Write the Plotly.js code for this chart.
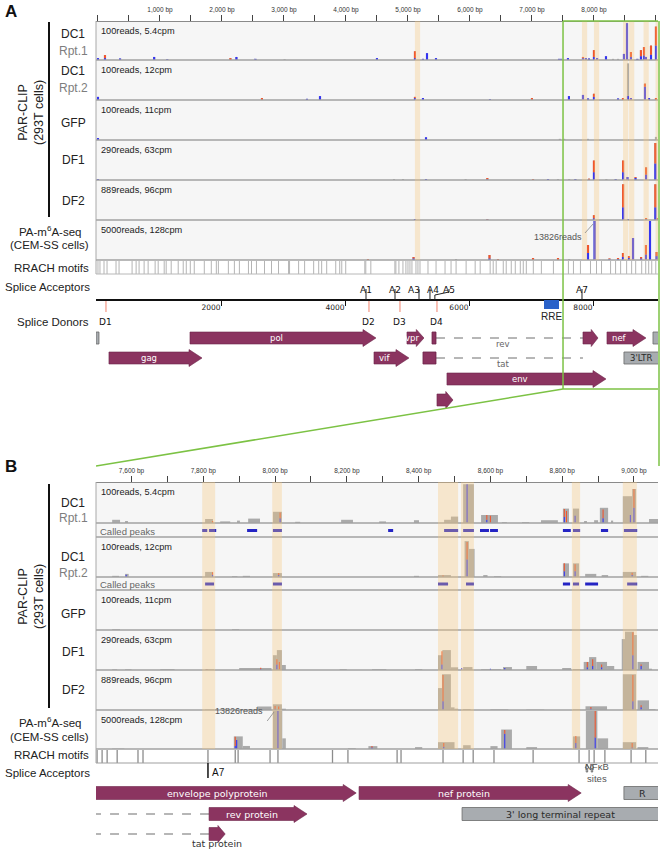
<!DOCTYPE html>
<html>
<head>
<meta charset="utf-8">
<script src="https://cdn.plot.ly/plotly-3.0.1.min.js"></script>
<style>
  html, body { margin: 0; padding: 0; background: #fff; }
  #chart { width: 662px; height: 857px; }
</style>
</head>
<body>
<div id="chart"></div>
<script>
// ---------------- data ----------------
// ruler ticks
const rulerATickVals = [1000,2000,3000,4000,5000,6000,7000,8000,9000];
const rulerATickText = ['1,000 bp','2,000 bp','3,000 bp','4,000 bp','5,000 bp','6,000 bp','7,000 bp','8,000 bp','9,000 bp'];
const genomeTickVals = [2000, 4000, 6000, 8000];
const rulerBTickVals = [7600,7800,8000,8200,8400,8600,8800,9000];
const rulerBTickText = ['7,600 bp','7,800 bp','8,000 bp','8,200 bp','8,400 bp','8,600 bp','8,800 bp','9,000 bp'];

const scaleLabels = ['100reads, 5.4cpm', '100reads, 12cpm', '100reads, 11cpm', '290reads, 63cpm', '889reads, 96cpm', '5000reads, 128cpm'];
const trackMax = [100, 100, 100, 290, 889, 5000];

// panel A coverage: [position bp, coverage reads, blue reads, red reads]
const covA_DC1r1 = [
  [0,5,5,0],[113,13,5,8],[356,4,4,0],[906,8,8,0],[1117,2,2,0],[2136,5,0,5],[2233,8,8,0],[2540,3,3,0],[3010,2,0,0],
  [4500,5,5,0],[5113,23,5,18],[5242,3,3,0],[5307,18,18,0],[5452,5,5,0],
  [7436,3,3,0],[7470,3,3,0],[7581,5,5,0],[7823,8,5,3],[7870,5,5,0],[7920,4,4,0],[8000,26,8,18],[8050,5,5,0],
  [8194,10,10,0],[8307,3,0,0],[8388,3,0,0],[8484,16,16,0],[8533,97,97,0],[8597,21,8,13],[8700,3,3,0],
  [8758,26,10,16],[8807,34,12,22],[8839,8,8,0],[8920,38,14,24],[9000,88,38,50]
];
const covA_DC1r2 = [
  [0,8,8,0],[2645,5,0,5],[3371,3,3,0],[3581,10,10,0],[5113,8,5,3],[5242,5,5,0],[6323,2,2,0],[7000,5,0,5],
  [7597,10,10,0],[7823,13,13,0],[7904,4,4,0],[8000,16,8,8],[8388,4,4,0],[8468,5,0,5],[8549,94,10,0],[8597,5,5,0],
  [8823,42,34,8],[8888,5,5,0],[9000,5,0,5]
];
const covA_GFP = [[0,5,5,0],[5291,7,7,0],[7450,3,0,0],[7520,3,0,0],[7904,3,0,0],[9000,8,0,0]];
const covA_DF1 = [
  [0,7,7,0],[4775,7,0,0],[4920,7,0,0],[5291,7,7,0],[5930,7,0,0],[6280,15,5,10],[7017,7,0,7],[7259,7,7,0],[7420,7,0,0],
  [7600,7,0,0],[7700,7,7,0],[7920,10,0,10],[8000,145,58,87],[8200,7,0,0],[8350,7,7,0],[8470,145,58,87],
  [8540,22,22,0],[8670,22,15,7],[8840,94,40,54],[8990,275,123,152]
];
const covA_DF2 = [
  [5113,22,22,0],[6280,22,10,12],[8000,110,40,70],[8470,815,290,525],[8550,22,22,0],[8840,44,22,22],
  [8990,815,290,525],[9030,40,20,20]
];
const covA_PA = [
  [4355,128,0,128],[5090,384,200,184],[5775,128,0,0],[6315,640,200,440],[6452,128,0,128],[7017,256,0,256],
  [7420,256,0,256],[7600,128,0,0],[7904,1920,900,1020],[8010,13826,13826,0],[8250,200,100,100],[8388,256,128,128],
  [8468,900,400,500],[8565,512,256,256],[8630,2816,2816,0],[8760,384,200,184],[8839,1920,700,1220],
  [8904,13826,6000,7826],[9010,1024,500,524]
];

// panel B coverage clusters: [start bp, end bp, reads]; mismatches: [position bp, blue reads, red reads]
const clusB_DC1r1 = [[7546,7568,8],[7582,7590,5],[7805,7827,10],[7847,7875,4],[7894,7902,6],[7925,7958,11],[7994,8019,28],[8056,8070,3],[8184,8217,8],[8290,8309,4],[8387,8401,7],[8471,8490,8],[8490,8510,16],[8524,8554,97],[8574,8621,20],[8632,8646,2],[8688,8708,2],[8741,8788,7],[8802,8819,36],[8830,8847,36],[8861,8869,5],[8889,8900,7],[8905,8928,38],[8936,8942,6],[8969,8995,67],[8995,9006,85],[9042,9067,10]];
const mmB_DC1r1 = [[7826,0,5],[8014,12,14],[8535,97,0],[8590,8,12],[8600,0,18],[8806,15,20],[8812,0,30],[8836,18,0],[8914,12,22],[8990,20,0],[9000,38,47]];
const clusB_DC1r2 = [[7546,7565,3],[7582,7592,8],[7805,7827,13],[7880,7895,2],[7910,7930,3],[7994,8019,10],[8387,8401,3],[8454,8490,5],[8528,8540,92],[8540,8556,72],[8580,8592,5],[8610,8630,2],[8802,8819,35],[8830,8847,35],[8864,8895,8],[8910,8928,5],[8969,9006,13],[9020,9040,3]];
const mmB_DC1r2 = [[7585,6,0],[7826,6,6],[8010,5,5],[8468,0,4],[8535,45,45],[8806,15,20],[8836,15,18],[8995,5,6]];
const clusB_GFP = [[7546,7568,2],[7880,7900,2]];
const mmB_GFP = [];
const clusB_DF1 = [[7546,7560,5],[7582,7600,5],[7680,7720,6],[7805,7830,5],[7900,7990,15],[7994,8005,110],[8005,8019,148],[8019,8030,37],[8180,8200,6],[8270,8310,6],[8390,8410,6],[8454,8466,110],[8466,8490,148],[8490,8510,20],[8524,8550,22],[8574,8630,6],[8635,8660,22],[8700,8730,30],[8800,8825,15],[8830,8850,7],[8860,8875,60],[8875,8895,96],[8895,8925,60],[8925,8945,30],[8966,8975,230],[8975,9000,285],[9000,9008,260],[9010,9042,60],[9042,9050,10]];
const mmB_DF1 = [[7810,4,4],[7960,8,8],[8005,40,40],[8012,0,60],[8465,40,100],[8520,15,0],[8600,10,0],[8640,15,0],[8870,20,40],[8885,30,50],[8910,20,20],[8997,110,170],[9020,30,10]];
const clusB_DF2 = [[7805,7830,10],[7950,7990,80],[7994,8019,130],[8019,8030,30],[8454,8465,500],[8465,8490,815],[8490,8500,60],[8500,8510,30],[8524,8545,20],[8600,8650,15],[8700,8750,10],[8830,8850,15],[8865,8925,85],[8969,9006,815],[9010,9042,220],[9042,9060,20]];
const mmB_DF2 = [[8000,30,60],[8010,0,80],[8468,200,600],[8880,30,40],[8997,200,600],[9020,60,50]];
const clusB_PA = [[7546,7580,60],[7885,7910,1660],[7910,7930,400],[7994,8020,13826],[8020,8030,1400],[8203,8225,100],[8260,8285,380],[8390,8410,250],[8454,8500,900],[8524,8545,500],[8600,8620,380],[8630,8660,2560],[8700,8730,250],[8830,8850,1660],[8866,8898,13826],[8898,8928,1400],[8969,9006,900],[9010,9040,250]];
const mmB_PA = [[7889,400,1200],[7893,1200,0],[8008,13826,0],[8270,200,180],[8470,300,500],[8640,2000,500],[8838,800,900],[8892,1500,13826],[8995,200,600]];

// called peaks [start, end]
const peaksB_r1 = [[7797,7811],[7816,7836],[7922,7950],[7994,8019],[8315,8329],[8471,8510],[8524,8554],[8571,8596],[8599,8621],[8802,8824],[8830,8850],[8908,8928],[8972,9009]];
const peaksB_r2 = [[7805,7830],[7994,8019],[8454,8482],[8532,8554],[8802,8822],[8830,8847],[8864,8900],[8981,9009]];

// RRACH motif positions
const rrachA = [0,32,97,146,291,340,550,615,663,744,809,922,971,1068,1100,1181,1294,1375,1424,1489,1553,1715,1828,1909,1942,2103,2200,2281,2427,2476,2556,2686,2799,2912,3074,3090,3236,3333,3479,3560,3608,3689,3835,3899,3932,3996,4304,4320,4401,4789,4805,4854,4919,4967,5000,5032,5064,5129,5161,5194,5323,5453,5598,5695,5776,5938,6084,6165,6326,6375,6423,6537,6585,6666,6731,6812,6860,6909,7022,7152,7346,7588,7669,7782,7944,8041,8122,8268,8349,8430,8527,8608,8673,8770,8835,8883,8932,8997];
const rrachB = [7504,7518,7532,7560,7618,7632,7813,7889,7897,7986,8008,8160,8203,8340,8351,8468,8524,8552,8610,8719,8847,8875,8889,8919,8992,9033];

// highlighted m6A regions
const bandsA = [5154, 7848, 8042, 8511, 8608, 8842, 9036];
const bandsB = [[7797,7833],[7992,8019],[8454,8510],[8518,8554],[8827,8850],[8969,9008]];

// genome features: [label, start, end, row, kind]
const genesA = [
  ['', -30, 16, 1, 'ltr'],
  ['gag', 177, 1678, 2, 'arrow'],
  ['pol', 1484, 4484, 1, 'arrow'],
  ['vif', 4452, 5016, 2, 'arrow'],
  ['vpr', 4984, 5258, 1, 'arrow'],
  ['', 5388, 5452, 1, 'box'],
  ['', 5242, 5452, 2, 'box'],
  ['', 7823, 8065, 1, 'arrow'],
  ['nef', 8210, 8839, 1, 'arrow'],
  ['', 8952, 9060, 1, 'ltr'],
  ["3'LTR", 8484, 9049, 2, 'ltr'],
  ['env', 5629, 8194, 3, 'arrow'],
  ['', 5468, 5726, 4, 'arrow']
];
const intronsA = [['rev', 5452, 7823, 1], ['tat', 5452, 7823, 2]];
const genesB = [
  ['envelope polyprotein', 7490, 8226, 1, 'arrow'],
  ['nef protein', 8234, 8853, 1, 'arrow'],
  ['R', 8972, 9073, 1, 'ltr'],
  ['rev protein', 7816, 8089, 2, 'arrow'],
  ["3' long terminal repeat", 8521, 9070, 2, 'ltr'],
  ['', 7816, 7861, 3, 'arrow']
];
const intronsB = [['', 7490, 7816, 2], ['', 7490, 7816, 3]];

const acceptorNames = ['A1','A2','A3','A4','A5','A7'];
const acceptorPos = [4323, 4791, 5178, 5355, 5404, 7807];
const donorNames = ['D1','D2','D3','D4'];
const donorPos = [129, 4371, 4871, 5468];
const rreRange = [7194, 7436];
const nfkbSites = [8869, 8883];

// ---------------- layout helpers ----------------
const W = 662, H = 857;
const px = v => v / W;
const py = v => 1 - v / H;
const L = 96, R = 658;
const A_RANGE = [-32, 9033];
const B_RANGE = [7501, 9067];
const bpPerPxA = (A_RANGE[1] - A_RANGE[0]) / (R - L);
const bpPerPxB = (B_RANGE[1] - B_RANGE[0]) / (R - L);

const SANS = 'Liberation Sans, Arial, sans-serif';
const VERD = 'DejaVu Sans, Verdana, sans-serif';
const BLUE = '#3434f2', RED = '#f0552d', GREY = '#aaaaaa';
const GENE = '#8b3460', LTR = '#a8acb0', GREEN = '#7cc244';

const rowsA = [[21,60],[60,100],[100,140],[140,180],[180,220],[220,260]];
const rrachRowA = [260,274];
const rowsB = [[482,523],[537,577],[590,630],[630,670],[670,710],[710,749]];
const peakRowsB = [[523,537],[577,590]];
const rrachRowB = [749,763];

const traces = [];
const shapes = [];
const annotations = [];
const layout = {
  width: W, height: H, margin: {l: 0, r: 0, t: 0, b: 0},
  paper_bgcolor: '#ffffff', plot_bgcolor: 'rgba(0,0,0,0)',
  showlegend: false, barmode: 'overlay', font: {family: SANS}
};

function yName(i) { return i === 1 ? 'y' : 'y' + i; }
function yKey(i) { return i === 1 ? 'yaxis' : 'yaxis' + i; }
function addY(i, row, max, xa) {
  layout[yKey(i)] = {domain: [py(row[1]), py(row[0] + 1)], range: [0, max], anchor: xa,
    visible: false, fixedrange: true};
}

// y axes: A tracks 1-6, A motifs 7, B tracks 8-13, B peaks 14-15, B motifs 16
rowsA.forEach((r, i) => addY(i + 1, r, trackMax[i], 'x'));
addY(7, rrachRowA, 1, 'x');
rowsB.forEach((r, i) => addY(i + 8, r, trackMax[i], 'x3'));
addY(14, peakRowsB[0], 1, 'x3');
addY(15, peakRowsB[1], 1, 'x3');
addY(16, rrachRowB, 1, 'x3');

const axBase = {showgrid: false, zeroline: false, fixedrange: true, domain: [px(L), px(R)]};
layout.xaxis = Object.assign({}, axBase, {range: A_RANGE, anchor: 'y', side: 'top',
  showline: true, linecolor: '#8a8a8a', linewidth: 1, ticks: 'outside', ticklen: 6, tickcolor: '#444',
  tickvals: rulerATickVals, ticktext: rulerATickText, tickfont: {family: SANS, size: 6.5, color: '#333'},
  minor: {tick0: 0, dtick: 500, ticks: 'outside', ticklen: 6, tickcolor: '#444', showgrid: false}});
layout.xaxis2 = Object.assign({}, axBase, {range: A_RANGE, anchor: 'free', position: py(300), side: 'bottom',
  showline: true, linecolor: '#111', linewidth: 2, ticks: 'outside', ticklen: 5, tickcolor: '#111',
  ticklabelposition: 'outside left', tickvals: genomeTickVals, ticktext: genomeTickVals.map(String),
  tickfont: {family: VERD, size: 7.5, color: '#222'}});
layout.xaxis3 = Object.assign({}, axBase, {range: B_RANGE, anchor: 'y8', side: 'top',
  showline: true, linecolor: '#8a8a8a', linewidth: 1, ticks: 'outside', ticklen: 6, tickcolor: '#444',
  tickvals: rulerBTickVals, ticktext: rulerBTickText, tickfont: {family: SANS, size: 6.5, color: '#333'},
  minor: {tick0: 7500, dtick: 100, ticks: 'outside', ticklen: 6, tickcolor: '#444', showgrid: false}});

// ---------------- traces ----------------
function barsA(rows, ya) {
  const x = rows.map(r => r[0]);
  const c = {type: 'bar', x, width: 34, xaxis: 'x', yaxis: ya, hoverinfo: 'skip'};
  return [
    Object.assign({}, c, {y: rows.map(r => r[1]), marker: {color: GREY, line: {width: 0}}}),
    Object.assign({}, c, {y: rows.map(r => r[2]), marker: {color: BLUE, line: {width: 0}}}),
    Object.assign({}, c, {y: rows.map(r => r[3]), base: rows.map(r => r[2]), marker: {color: RED, line: {width: 0}}})
  ];
}
function barsB(clus, mm, ya) {
  const c = {type: 'bar', xaxis: 'x3', yaxis: ya, hoverinfo: 'skip'};
  return [
    Object.assign({}, c, {x: clus.map(k => (k[0] + k[1]) / 2), width: clus.map(k => k[1] - k[0]),
      y: clus.map(k => k[2]), marker: {color: GREY, line: {width: 0}}}),
    Object.assign({}, c, {x: mm.map(m => m[0]), width: 3, y: mm.map(m => m[1]),
      marker: {color: BLUE, line: {width: 0}}}),
    Object.assign({}, c, {x: mm.map(m => m[0]), width: 3, y: mm.map(m => m[2]), base: mm.map(m => m[1]),
      marker: {color: RED, line: {width: 0}}})
  ];
}
function ticksTrace(list, xa, ya, color, w) {
  const x = [], y = [];
  list.forEach(p => { x.push(p, p, null); y.push(0, 1, null); });
  return {type: 'scatter', mode: 'lines', x, y, xaxis: xa, yaxis: ya, line: {color, width: w}, hoverinfo: 'skip'};
}
function peaksTrace(list, ya) {
  const x = [], y = [];
  list.forEach(p => { x.push(p[0], p[1], null); y.push(0.5, 0.5, null); });
  return {type: 'scatter', mode: 'lines', x, y, xaxis: 'x3', yaxis: ya, line: {color: '#2424c4', width: 3}, hoverinfo: 'skip'};
}

[covA_DC1r1, covA_DC1r2, covA_GFP, covA_DF1, covA_DF2, covA_PA].forEach((rows, i) => {
  traces.push(...barsA(rows, yName(i + 1)));
});
traces.push(ticksTrace(rrachA, 'x', 'y7', '#b4b4b4', 1));
[[clusB_DC1r1, mmB_DC1r1], [clusB_DC1r2, mmB_DC1r2], [clusB_GFP, mmB_GFP],
 [clusB_DF1, mmB_DF1], [clusB_DF2, mmB_DF2], [clusB_PA, mmB_PA]].forEach((p, i) => {
  traces.push(...barsB(p[0], p[1], yName(i + 8)));
});
traces.push(peaksTrace(peaksB_r1, 'y14'));
traces.push(peaksTrace(peaksB_r2, 'y15'));
traces.push(ticksTrace(rrachB, 'x3', 'y16', '#8c8c8c', 1.3));
// keeps the genome coordinate axis alive
traces.push({type: 'scatter', mode: 'markers', x: [4000], y: [0.5], xaxis: 'x2', yaxis: 'y7',
  marker: {opacity: 0}, hoverinfo: 'skip'});

// ---------------- shapes ----------------
function rectPx(x0, y0, x1, y1, fill, layer) {
  shapes.push({type: 'rect', xref: 'paper', yref: 'paper', x0: px(x0), x1: px(x1), y0: py(y1), y1: py(y0),
    fillcolor: fill, line: {width: 0}, layer: layer || 'below'});
}
function hline(x0, x1, y, color, w) {
  shapes.push({type: 'line', xref: 'paper', yref: 'paper', x0: px(x0), x1: px(x1), y0: py(y), y1: py(y),
    line: {color, width: w}});
}
function vline(x, y0, y1, color, w) {
  shapes.push({type: 'line', xref: 'paper', yref: 'paper', x0: px(x), x1: px(x), y0: py(y0), y1: py(y1),
    line: {color, width: w}});
}
function dataLine(xref, x0, y0, x1, y1, color, w, dash) {
  shapes.push({type: 'line', xref, yref: 'paper', x0, x1, y0: py(y0), y1: py(y1),
    line: {color, width: w, dash: dash || 'solid'}});
}

// track backgrounds and separators
rowsA.concat(rowsB, peakRowsB).forEach(r => {
  rectPx(L, r[0], R, r[1], '#f6f6f6');
  hline(L, R, r[1], '#a2a2a2', 1.3);
});
hline(L, R, rrachRowA[1], '#b8b8b8', 1);
hline(L, R, rrachRowB[1], '#a0a0a0', 1.2);
vline(L, 21, 274, '#a8a8a8', 1);
vline(L, 482, 763, '#a8a8a8', 1);

// highlighted regions
bandsA.forEach(c => shapes.push({type: 'rect', xref: 'x', yref: 'paper', x0: c - 42, x1: c + 42,
  y0: py(260), y1: py(21), fillcolor: 'rgba(246,198,125,0.34)', line: {width: 0}, layer: 'above'}));
bandsB.forEach(b => shapes.push({type: 'rect', xref: 'x3', yref: 'paper', x0: b[0], x1: b[1],
  y0: py(749), y1: py(482), fillcolor: 'rgba(246,198,125,0.34)', line: {width: 0}, layer: 'above'}));

// gene features
function arrowPath(s, e, yc, hb, hh, headBp) {
  const h0 = Math.max(s, e - headBp);
  return 'M' + s + ',' + py(yc - hb) + ' L' + h0 + ',' + py(yc - hb) + ' L' + h0 + ',' + py(yc - hh) +
    ' L' + e + ',' + py(yc) + ' L' + h0 + ',' + py(yc + hh) + ' L' + h0 + ',' + py(yc + hb) +
    ' L' + s + ',' + py(yc + hb) + ' Z';
}
function drawGenes(list, xref, rowY, hb, hh, bpPx, fontSize) {
  list.forEach(g => {
    const [name, s, e, row, kind] = g;
    const yc = rowY[row];
    const lenPx = (e - s) / bpPx;
    const headPx = Math.min(13, lenPx * 0.45);
    let mid = (s + e) / 2;
    if (kind === 'arrow') {
      shapes.push({type: 'path', xref, yref: 'paper', path: arrowPath(s, e, yc, hb, hh, headPx * bpPx),
        fillcolor: GENE, line: {color: '#6d2549', width: 0.6}});
      mid = (s + e - headPx * bpPx) / 2;
    } else {
      shapes.push({type: 'rect', xref, yref: 'paper', x0: s, x1: e, y0: py(yc + hb), y1: py(yc - hb),
        fillcolor: kind === 'ltr' ? LTR : GENE, line: {color: kind === 'ltr' ? '#6a6a6a' : '#6d2549', width: 0.8}});
    }
    if (name) {
      annotations.push({xref, yref: 'paper', x: mid, y: py(yc), text: name, showarrow: false,
        xanchor: 'center', yanchor: 'middle',
        font: {family: VERD, size: fontSize, color: kind === 'ltr' ? '#2a2a2a' : '#ffffff'}});
    }
  });
}
const rowYA = {1: 338, 2: 358, 3: 379, 4: 400};
const rowYB = {1: 793, 2: 814, 3: 834};
intronsA.forEach(t => {
  dataLine('x', t[1], rowYA[t[3]], t[2], rowYA[t[3]], '#6f6f6f', 1, 'dash');
  annotations.push({xref: 'x', yref: 'paper', x: (t[1] + t[2]) / 2 - 100, y: py(rowYA[t[3]] + 6), text: t[0],
    showarrow: false, font: {family: VERD, size: 8.5, color: '#666'}});
});
intronsB.forEach(t => dataLine('x3', t[1], rowYB[t[3]], t[2], rowYB[t[3]], '#6f6f6f', 1.2, 'dash'));
drawGenes(genesA, 'x', rowYA, 6, 8.5, bpPerPxA, 8.5);
drawGenes(genesB, 'x3', rowYB, 6.5, 8.5, bpPerPxB, 9.5);
annotations.push({xref: 'x3', yref: 'paper', x: 7838, y: py(851), text: 'tat protein', showarrow: false,
  font: {family: VERD, size: 9.5, color: '#333'}});

// splice sites (panel A)
const acceptorShift = {A1: 0, A2: 0, A3: -5, A4: 3, A7: 0};
acceptorPos.forEach((p, i) => {
  const name = acceptorNames[i];
  if (name === 'A5') {
    const lx = p + 16 * bpPerPxA;
    dataLine('x', p + 30, 300, p + 30, 295, '#222', 1);
    dataLine('x', p + 30, 295, lx, 292, '#222', 1);
    dataLine('x', lx, 292, lx, 289, '#222', 1);
    annotations.push({xref: 'x', yref: 'paper', x: lx, y: py(283), text: name, showarrow: false,
      font: {family: VERD, size: 9, color: '#111'}});
  } else {
    dataLine('x', p, 289, p, 300, '#222', 1);
    annotations.push({xref: 'x', yref: 'paper', x: p, xshift: acceptorShift[name], y: py(283), text: name,
      showarrow: false, font: {family: VERD, size: 9, color: '#111'}});
  }
});
donorPos.forEach((p, i) => {
  dataLine('x', p, 301, p, 312, '#f2826c', 1);
  annotations.push({xref: 'x', yref: 'paper', x: p, y: py(322), text: donorNames[i], showarrow: false,
    font: {family: VERD, size: 9, color: '#111'}});
});
shapes.push({type: 'rect', xref: 'x', yref: 'paper', x0: rreRange[0], x1: rreRange[1], y0: py(309), y1: py(300),
  fillcolor: '#2a62c9', line: {width: 0}});
annotations.push({xref: 'x', yref: 'paper', x: (rreRange[0] + rreRange[1]) / 2, y: py(316), text: 'RRE',
  showarrow: false, font: {family: SANS, size: 10, color: '#222'}});

// splice acceptor A7 and NF-kB sites (panel B)
dataLine('x3', acceptorPos[5] + 6, 763, acceptorPos[5] + 6, 778, '#111', 1.5);
annotations.push({xref: 'x3', yref: 'paper', x: acceptorPos[5] + 6, xshift: 2, y: py(780), text: 'A7',
  xanchor: 'left', showarrow: false, font: {family: SANS, size: 10, color: '#111'}});
// NF-kB site markers: small open up-arrows
nfkbSites.forEach(p => shapes.push({type: 'path', xref: 'x3', yref: 'paper',
  path: 'M' + (p - 5) + ',' + py(768) + ' L' + p + ',' + py(764) + ' L' + (p + 5) + ',' + py(768) +
    ' L' + (p + 2) + ',' + py(768) + ' L' + (p + 2) + ',' + py(772) + ' L' + (p - 2) + ',' + py(772) +
    ' L' + (p - 2) + ',' + py(768) + ' Z',
  fillcolor: '#ffffff', line: {color: '#555', width: 0.8}}));
annotations.push({xref: 'x3', yref: 'paper', x: 8897, y: py(786), text: 'NFκB<br>sites',
  showarrow: false, font: {family: SANS, size: 9.5, color: '#555'}});

// 13826 reads callouts
dataLine('x', 7855, 233, 7985, 224, '#888', 0.8);
annotations.push({xref: 'x', yref: 'paper', x: 7840, y: py(230), text: '13826reads', xanchor: 'right',
  showarrow: false, font: {family: SANS, size: 9, color: '#555'}});
dataLine('x3', 7978, 721, 7997, 712, '#888', 0.8);
annotations.push({xref: 'x3', yref: 'paper', x: 7973, y: py(718), text: '13826reads', xanchor: 'right',
  showarrow: false, font: {family: SANS, size: 9, color: '#555'}});

// zoom connector
dataLine('x', B_RANGE[0], 21, B_RANGE[0], 389, GREEN, 1.5);
dataLine('x', B_RANGE[0], 21, A_RANGE[1], 21, GREEN, 1.5);
dataLine('x', B_RANGE[0], 389, A_RANGE[1], 389, GREEN, 1.5);
dataLine('x', B_RANGE[0], 389, A_RANGE[0], 466, GREEN, 1.5);
vline(659, 21, 466, GREEN, 1.5);

// left bracket lines
vline(49, 22, 217, '#111', 2);
vline(49, 484, 708, '#111', 2);

// ---------------- text labels ----------------
function txt(x, y, text, size, color, anchor, extra) {
  annotations.push(Object.assign({xref: 'paper', yref: 'paper', x: px(x), y: py(y), text, showarrow: false,
    xanchor: anchor || 'center', yanchor: 'middle', font: {family: SANS, size, color}}, extra || {}));
}
txt(3, 11, '<b>A</b>', 17, '#111', 'left');
txt(3, 466, '<b>B</b>', 17, '#111', 'left');
txt(31, 113, 'PAR-CLIP<br>(293T cells)', 12.5, '#222', 'center', {textangle: -90});
txt(31, 597, 'PAR-CLIP<br>(293T cells)', 12.5, '#222', 'center', {textangle: -90});

const leftA = [['DC1', 34, '#222'], ['Rpt.1', 51, '#7d7d7d'], ['DC1', 71, '#222'], ['Rpt.2', 88, '#7d7d7d'],
  ['GFP', 123, '#222'], ['DF1', 160, '#222'], ['DF2', 201, '#222']];
leftA.forEach(l => txt(73, l[1], l[0], 12, l[2]));
const leftB = [['DC1', 503, '#222'], ['Rpt.1', 518, '#7d7d7d'], ['DC1', 557, '#222'], ['Rpt.2', 573, '#7d7d7d'],
  ['GFP', 614, '#222'], ['DF1', 652, '#222'], ['DF2', 690, '#222']];
leftB.forEach(l => txt(73, l[1], l[0], 12, l[2]));

[[231, 245, 268, 287], [722, 737, 755, 773]].forEach(ys => {
  txt(83, ys[0], 'PA-m<sup>6</sup>A-seq', 11.5, '#222', 'right');
  txt(91, ys[1], '(CEM-SS cells)', 11.5, '#222', 'right');
  txt(91, ys[2], 'RRACH motifs', 11.5, '#222', 'right');
  txt(92, ys[3], 'Splice Acceptors', 11.5, '#222', 'right');
});
txt(91, 322, 'Splice Donors', 11.5, '#222', 'right');

rowsA.forEach((r, i) => txt(99, r[0] + 10, scaleLabels[i], 9.2, '#222', 'left'));
rowsB.forEach((r, i) => txt(99, r[0] + 10, scaleLabels[i], 9.2, '#222', 'left'));
peakRowsB.forEach(r => txt(98, (r[0] + r[1]) / 2 + 1, 'Called peaks', 9.5, '#666', 'left'));

layout.shapes = shapes;
layout.annotations = annotations;

Plotly.newPlot('chart', traces, layout, {displayModeBar: false, staticPlot: true});
</script>
</body>
</html>
